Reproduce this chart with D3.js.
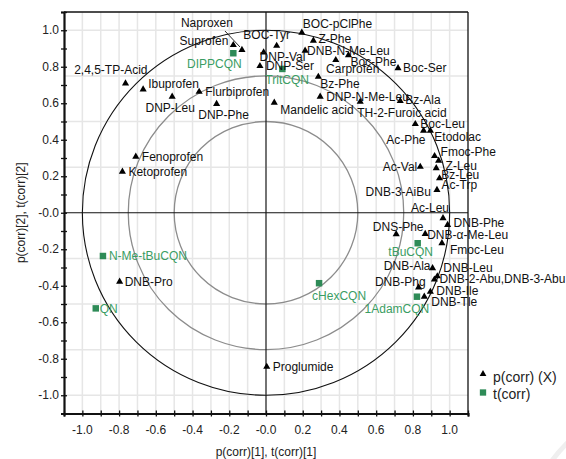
<!DOCTYPE html>
<html>
<head>
<meta charset="utf-8">
<script src="https://cdn.jsdelivr.net/npm/d3@7"></script>
<style>
  body { margin: 0; background: #fff; }
  svg { display: block; font-family: "Liberation Sans", Arial, sans-serif; }
</style>
</head>
<body>
<div id="chart"></div>
<script>
// p(corr) (X) loadings
var pNames = ["2,4,5-TP-Acid", "Ibuprofen", "DNP-Leu", "Flurbiprofen", "DNP-Phe", "Suprofen", "Naproxen",
  "BOC-Tyr", "DNP-Val", "DNP-Ser", "BOC-pClPhe", "Z-Phe", "DNB-N-Me-Leu", "Carprofen", "Boc-Phe",
  "Boc-Ser", "Bz-Phe", "DNP-N-Me-Leu", "Mandelic acid", "Bz-Ala", "TH-2-Furoic acid", "Boc-Leu",
  "Ac-Phe", "Etodolac", "Fmoc-Phe", "Z-Leu", "Ac-Val", "Bz-Leu", "Ac-Trp", "DNB-3-AiBu", "Ac-Leu",
  "DNB-Phe", "DNS-Phe", "DNB-\u03b1-Me-Leu", "Fmoc-Leu", "DNB-Ala", "DNB-Leu", "DNB-2-Abu,DNB-3-Abu",
  "DNB-Phg", "DNB-Ile", "DNB-Tle", "Fenoprofen", "Ketoprofen", "DNB-Pro", "Proglumide"];
var pX = [-0.765, -0.669, -0.511, -0.364, -0.269, -0.178, -0.131,
  0.058, -0.013, -0.033, 0.195, 0.258, 0.213, 0.380, 0.449,
  0.719, 0.285, 0.295, 0.045, 0.731, 0.513, 0.813,
  0.858, 0.895, 0.918, 0.940, 0.840, 0.927, 0.945, 0.931, 0.964,
  0.989, 0.709, 0.867, 0.958, 0.907, 0.933, 0.917,
  0.831, 0.895, 0.862, -0.709, -0.782, -0.797, 0.004];
var pY = [0.709, 0.676, 0.636, 0.663, 0.596, 0.919, 0.892,
  0.915, 0.879, 0.804, 0.987, 0.943, 0.888, 0.837, 0.864,
  0.792, 0.745, 0.636, 0.603, 0.612, 0.608, 0.486,
  0.450, 0.450, 0.311, 0.285, 0.252, 0.244, 0.189, 0.125, -0.030,
  -0.067, -0.117, -0.116, -0.167, -0.304, -0.348, -0.366,
  -0.409, -0.433, -0.460, 0.307, 0.225, -0.378, -0.844];

// t(corr) scores
var tNames = ["DIPPCQN", "TritCQN", "tBuCQN", "cHexCQN", "1AdamCQN", "N-Me-tBuCQN", "QN"];
var tX = [-0.178, 0.089, 0.826, 0.289, 0.822, -0.888, -0.927];
var tY = [0.874, 0.788, -0.167, -0.386, -0.460, -0.237, -0.524];

var majorTicks = [-1.0, -0.8, -0.6, -0.4, -0.2, 0, 0.2, 0.4, 0.6, 0.8, 1.0];
var xTickLabels = ["-1.0", "-0.8", "-0.6", "-0.4", "-0.2", "-0.0", "0.2", "0.4", "0.6", "0.8", "1.0"];
var yTickLabels = ["-1.0", "-0.8", "-0.6", "-0.4", "-0.2", "-0.0", "0.2", "0.4", "0.6", "0.8", "1.0"];
var minorTicks = d3.range(-11, 12).map(function (i) { return i / 10; });
var hGrid = [-1.0, -0.75, -0.5, -0.25, 0.25, 0.5, 0.75, 1.0];
var circleRadii = [1, 0.75, 0.5];

// label placement: [dx, dy, anchor] in px from the marker
var labelPos = {
  "2,4,5-TP-Acid": [22, -14, "end"], "Ibuprofen": [5, -6, "start"], "DNP-Leu": [-2, 11, "middle"],
  "Flurbiprofen": [6, 0, "start"], "DNP-Phe": [7, 11, "middle"], "Suprofen": [-5, -4, "end"],
  "Naproxen": [-35, -27, "middle"], "BOC-Tyr": [-10, -11, "middle"], "DNP-Val": [-4, 4, "start"],
  "DNP-Ser": [6, 0, "start"], "BOC-pClPhe": [1, -9, "start"], "Z-Phe": [5, -2, "start"],
  "DNB-N-Me-Leu": [2, 0, "start"], "Carprofen": [17, 9, "middle"], "Boc-Phe": [2, 7, "start"],
  "Boc-Ser": [5, 0, "start"], "Bz-Phe": [2, 7, "start"], "DNP-N-Me-Leu": [6, 0, "start"],
  "Mandelic acid": [6, 7, "start"], "Bz-Ala": [5, -1, "start"], "TH-2-Furoic acid": [-3, 11, "start"],
  "Boc-Leu": [5, 0, "start"], "Ac-Phe": [2, 9, "end"], "Etodolac": [4, 6, "start"],
  "Fmoc-Phe": [6, -4, "start"], "Z-Leu": [7, 5, "start"], "Ac-Val": [-3, 0, "end"],
  "Bz-Leu": [5, 7, "start"], "Ac-Trp": [2, 7, "start"], "DNB-3-AiBu": [-6, 2, "end"],
  "Ac-Leu": [6, -10, "end"], "DNB-Phe": [6, -2, "start"], "DNS-Phe": [2, -7, "middle"],
  "DNB-\u03b1-Me-Leu": [2, 1, "start"], "Fmoc-Leu": [8, 7, "start"], "DNB-Ala": [-2, -2, "end"],
  "DNB-Leu": [6, -8, "start"], "DNB-2-Abu,DNB-3-Abu": [5, -1, "start"], "DNB-Phg": [7, -6, "end"],
  "DNB-Ile": [6, -1, "start"], "DNB-Tle": [7, 5, "start"], "Fenoprofen": [6, 0, "start"],
  "Ketoprofen": [6, 0, "start"], "DNB-Pro": [5, 0, "start"], "Proglumide": [6, 0, "start"],
  "DIPPCQN": [-19, 11, "middle"], "TritCQN": [-17, 11, "start"], "tBuCQN": [-7, 9, "middle"],
  "cHexCQN": [20, 13, "middle"], "1AdamCQN": [-20, 12, "middle"], "N-Me-tBuCQN": [6, 0, "start"],
  "QN": [4, 0, "start"]
};

var W = 566, H = 459;
var plotLeft = 64, plotRight = 468, plotTop = 12, plotBottom = 413.5;
var green = "#2e8b57", greenText = "#3a9d63";

var svg = d3.select("#chart").append("svg")
  .attr("width", W).attr("height", H);

// faint watermark arc bottom right
svg.append("circle")
  .attr("cx", 650).attr("cy", 530).attr("r", 120)
  .attr("fill", "none").attr("stroke", "#efefef").attr("stroke-width", 5);

var x = d3.scaleLinear().domain([-1.1, 1.1]).range([plotLeft, plotRight]);
var y = d3.scaleLinear().domain([-1.1, 1.1]).range([plotBottom, plotTop]);

// grid
svg.append("g").selectAll("line").data(minorTicks.filter(function (d) { return Math.abs(d) < 1.05; }))
  .enter().append("line")
  .attr("x1", function (d) { return x(d); }).attr("x2", function (d) { return x(d); })
  .attr("y1", plotTop).attr("y2", plotBottom)
  .attr("stroke", "#e6e6e6").attr("stroke-width", 1.5);
svg.append("g").selectAll("line").data(hGrid)
  .enter().append("line")
  .attr("x1", plotLeft).attr("x2", plotRight)
  .attr("y1", function (d) { return y(d); }).attr("y2", function (d) { return y(d); })
  .attr("stroke", "#e6e6e6").attr("stroke-width", 1.5);

// correlation circles
svg.append("g").selectAll("ellipse").data(circleRadii)
  .enter().append("ellipse")
  .attr("cx", x(0)).attr("cy", y(0))
  .attr("rx", function (d) { return x(d) - x(0); })
  .attr("ry", function (d) { return y(0) - y(d); })
  .attr("fill", "none")
  .attr("stroke", function (d) { return d === 1 ? "#111" : "#8c8c8c"; })
  .attr("stroke-width", function (d) { return d === 1 ? 1.1 : 1.3; });

// zero lines
svg.append("line").attr("x1", x(0)).attr("x2", x(0)).attr("y1", plotTop).attr("y2", plotBottom)
  .attr("stroke", "#111").attr("stroke-width", 1.1);
svg.append("line").attr("x1", plotLeft).attr("x2", plotRight).attr("y1", y(0)).attr("y2", y(0))
  .attr("stroke", "#111").attr("stroke-width", 1.1);

// frame
svg.append("line").attr("x1", plotLeft).attr("x2", plotRight).attr("y1", plotTop).attr("y2", plotTop)
  .attr("stroke", "#111").attr("stroke-width", 1.3);
svg.append("line").attr("x1", plotRight).attr("x2", plotRight).attr("y1", plotTop).attr("y2", plotBottom)
  .attr("stroke", "#111").attr("stroke-width", 1.3);

// axes (ticks cross the axis line)
var xAxis = svg.append("g").attr("transform", "translate(0," + plotBottom + ")")
  .call(d3.axisBottom(x).tickValues(minorTicks).tickSize(3).tickFormat(""));
xAxis.selectAll(".tick line").attr("y1", -3).attr("y2", 3).attr("stroke", "#111").attr("stroke-width", 1.3);
xAxis.select(".domain").attr("stroke", "#111").attr("stroke-width", 2.2);

var yAxis = svg.append("g").attr("transform", "translate(" + plotLeft + ",0)")
  .call(d3.axisLeft(y).tickValues(minorTicks).tickSize(3).tickFormat(""));
yAxis.selectAll(".tick line").attr("x1", -3).attr("x2", 3).attr("stroke", "#111").attr("stroke-width", 1.3);
yAxis.select(".domain").attr("stroke", "#111").attr("stroke-width", 2.2);

svg.append("g").selectAll("text").data(majorTicks)
  .enter().append("text")
  .attr("x", function (d) { return x(d); }).attr("y", plotBottom + 16).attr("dy", "0.35em")
  .attr("text-anchor", "middle").attr("font-size", 12).attr("fill", "#222")
  .text(function (d, i) { return xTickLabels[i]; });
svg.append("g").selectAll("text").data(majorTicks)
  .enter().append("text")
  .attr("x", plotLeft - 5).attr("y", function (d) { return y(d); }).attr("dy", "0.35em")
  .attr("text-anchor", "end").attr("font-size", 12).attr("fill", "#222")
  .text(function (d, i) { return yTickLabels[i]; });

// axis titles
svg.append("text").attr("x", x(0)).attr("y", 452).attr("dy", "0.35em")
  .attr("text-anchor", "middle").attr("font-size", 12).attr("fill", "#222")
  .text("p(corr)[1], t(corr)[1]");
svg.append("text").attr("transform", "translate(21," + y(0) + ") rotate(-90)")
  .attr("dy", "0.35em").attr("text-anchor", "middle").attr("font-size", 12).attr("fill", "#222")
  .text("p(corr)[2], t(corr)[2]");

var tri = d3.symbol().type(d3.symbolTriangle).size(22);
var sq = d3.symbol().type(d3.symbolSquare).size(42);

var pData = pNames.map(function (n, i) { return { name: n, x: pX[i], y: pY[i] }; });
var tData = tNames.map(function (n, i) { return { name: n, x: tX[i], y: tY[i] }; });

// Naproxen leader line
var nap = pData[pNames.indexOf("Naproxen")];
svg.append("line")
  .attr("x1", x(nap.x) - 2).attr("y1", y(nap.y) - 3)
  .attr("x2", x(nap.x) - 17).attr("y2", y(nap.y) - 19)
  .attr("stroke", "#111").attr("stroke-width", 0.9);

// markers
svg.append("g").selectAll("path").data(tData)
  .enter().append("path")
  .attr("d", sq)
  .attr("transform", function (d) { return "translate(" + x(d.x) + "," + y(d.y) + ")"; })
  .attr("fill", green);
svg.append("g").selectAll("path").data(pData)
  .enter().append("path")
  .attr("d", tri)
  .attr("transform", function (d) { return "translate(" + x(d.x) + "," + y(d.y) + ")"; })
  .attr("fill", "#000");

// labels
function addLabels(data, color) {
  svg.append("g").selectAll("text").data(data)
    .enter().append("text")
    .attr("x", function (d) { return x(d.x) + labelPos[d.name][0]; })
    .attr("y", function (d) { return y(d.y) + labelPos[d.name][1]; })
    .attr("dy", "0.35em")
    .attr("text-anchor", function (d) { return labelPos[d.name][2]; })
    .attr("font-size", 12)
    .attr("fill", color)
    .text(function (d) { return d.name; });
}
addLabels(pData, "#111");
addLabels(tData, greenText);

// legend
var legend = svg.append("g");
legend.append("path").attr("d", d3.symbol().type(d3.symbolTriangle).size(20))
  .attr("transform", "translate(483,374)").attr("fill", "#000");
legend.append("text").attr("x", 493).attr("y", 377).attr("dy", "0.35em")
  .attr("font-size", 14).attr("fill", "#222").text("p(corr) (X)");
legend.append("path").attr("d", d3.symbol().type(d3.symbolSquare).size(40))
  .attr("transform", "translate(483,392.5)").attr("fill", green);
legend.append("text").attr("x", 493).attr("y", 394).attr("dy", "0.35em")
  .attr("font-size", 14).attr("fill", "#222").text("t(corr)");
</script>
</body>
</html>
